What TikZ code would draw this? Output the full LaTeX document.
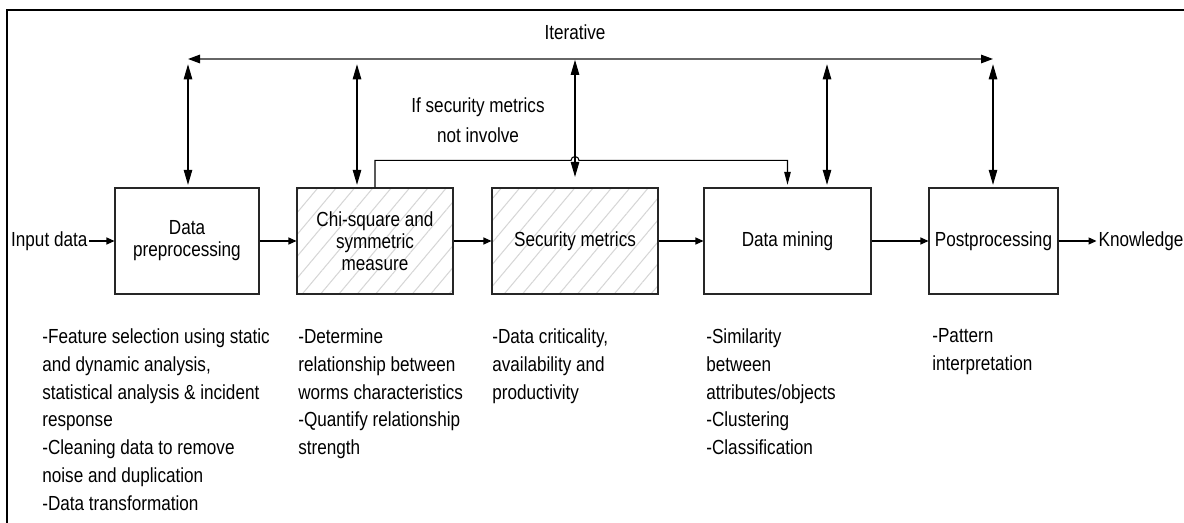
\documentclass[tikz,border=0pt]{standalone}
\usepackage{fontspec}
\setmainfont[FakeStretch=0.84]{Liberation Sans}
\usetikzlibrary{
    arrows.meta,
    positioning,
    patterns.meta
}
\newcommand{\boxfont}{\fontsize{11.6pt}{12.6pt}\selectfont}
\newcommand{\descfont}{\fontsize{11.6pt}{15.9pt}\selectfont}
\tikzset{
  box/.style   = {draw=black!85, line width=0.6pt, minimum height=2.12cm,
                  align=center, inner sep=2pt, font=\boxfont},
  hbox/.style  = {box, pattern={Lines[angle=50, distance=8pt, line width=0.6pt]},
                  pattern color=black!16},
  txt/.style   = {inner sep=1pt, font=\boxfont},
  desc/.style  = {anchor=north west, inner sep=0pt, align=left, font=\descfont},
  arr/.style   = {-{Triangle[length=0.16cm, width=0.14cm]}, line width=0.6pt},
  farr/.style  = {-{Triangle[length=0.26cm, width=0.13cm]}, line width=0.6pt},
  darr/.style  = {{Triangle[length=0.3cm, width=0.17cm]}-{Triangle[length=0.3cm, width=0.17cm]},
                  line width=0.6pt},
  iarr/.style  = {{Triangle[length=0.24cm, width=0.17cm, black]}-{Triangle[length=0.24cm, width=0.17cm, black]},
                  draw=black!60, line width=0.8pt}
}

\begin{document}
\begin{tikzpicture}
\useasboundingbox (0,0) rectangle (23.68,-10.46);

% frame
\draw[line width=1.2pt] (0.14,-10.46) -- (0.14,-0.2) -- (23.68,-0.2);

% process boxes
\node[box, minimum width=2.88cm] (pre) at (3.74,-4.82) {Data\\preprocessing};
\node[hbox, minimum width=3.12cm] (chi) at (7.5,-4.82) {Chi-square and\\symmetric\\measure};
\node[hbox, minimum width=3.32cm] (sec) at (11.5,-4.82) {Security metrics};
\node[box, minimum width=3.34cm] (dm) at (15.75,-4.82) {Data mining};
\node[box, minimum width=2.58cm] (post) at (19.87,-4.82) {Postprocessing};

\node[txt, left=0.5cm of pre] (input) {Input data};
\node[txt, right=0.76cm of post] (know) {Knowledge};

% main flow
\draw[arr] (input) -- (pre);
\draw[arr] (pre) -- (chi);
\draw[arr] (chi) -- (sec);
\draw[arr] (sec) -- (dm);
\draw[arr] (dm) -- (post);
\draw[arr] (post) -- (know);

% iterative loop
\coordinate (i1) at (3.76,-1.18);
\coordinate (i2) at (7.14,-1.18);
\coordinate (i3) at (11.5,-1.18);
\coordinate (i4) at (16.54,-1.18);
\coordinate (i5) at (19.86,-1.18);
\node[txt] (iter) at (11.5,-0.64) {Iterative};
\draw[iarr] (i1) -- (i5);

\draw[darr, shorten <=3pt, shorten >=1.5pt] (i1) -- (i1 |- pre.north);
\draw[darr, shorten <=3pt, shorten >=1.5pt] (i2) -- (i2 |- chi.north);
\draw[darr, shorten <=0.5pt, shorten >=6pt] (i3) -- (sec.north);
\draw[darr, shorten <=3pt, shorten >=1.5pt] (i4) -- (i4 |- dm.north);
\draw[darr, shorten <=3pt, shorten >=1.5pt] (i5) -- (i5 |- post.north);

% bypass when no security metrics
\draw[farr, shorten >=1.5pt] (chi.north) -- ++(0,0.54) coordinate (fb)
    -- ([xshift=-0.08cm]fb -| sec.north)
    arc[start angle=180, end angle=0, radius=0.08cm]
    -- (fb -| dm.north) -- (dm.north);
\node[txt, align=center, font=\fontsize{11.6pt}{17pt}\selectfont] (skip)
    at (9.56,-2.4) {If security metrics\\not involve};

% descriptions
\node[desc] (d1) at (0.84,-6.56) {-Feature selection using static\\and dynamic analysis,\\statistical analysis \& incident\\response\\-Cleaning data to remove\\noise and duplication\\-Data transformation};
\node[desc] (d2) at (5.96,-6.56) {-Determine\\relationship between\\worms characteristics\\-Quantify relationship\\strength};
\node[desc] (d3) at (9.84,-6.56) {-Data criticality,\\availability and\\productivity};
\node[desc] (d4) at (14.12,-6.56) {-Similarity\\between\\attributes/objects\\-Clustering\\-Classification};
\node[desc] (d5) at (18.64,-6.56) {-Pattern\\interpretation};

\end{tikzpicture}
\end{document}
